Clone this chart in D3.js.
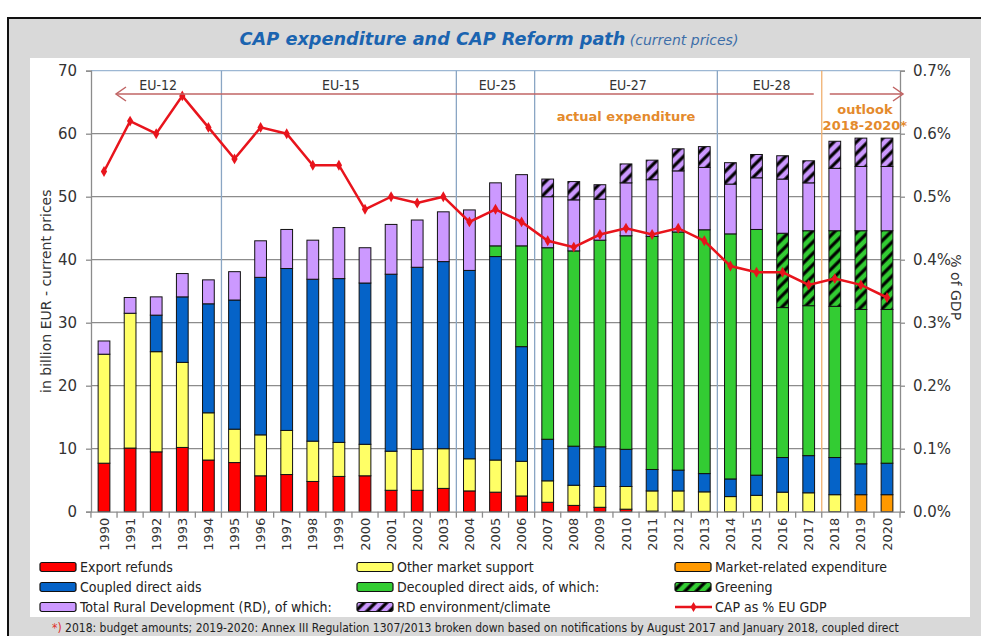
<!DOCTYPE html>
<html>
<head>
<meta charset="utf-8">
<script src="https://cdn.jsdelivr.net/npm/d3@7"></script>
<style>
body { margin: 0; background: #fff; }
svg text { font-family: "DejaVu Sans", Verdana, sans-serif; }
svg .cond { font-family: "DejaVu Sans Condensed", "DejaVu Sans", sans-serif; font-stretch: condensed; }
</style>
</head>
<body>
<svg id="chart" width="981" height="636"></svg>
<script>
// categories
const years = ["1990","1991","1992","1993","1994","1995","1996","1997","1998","1999",
  "2000","2001","2002","2003","2004","2005","2006","2007","2008","2009",
  "2010","2011","2012","2013","2014","2015","2016","2017","2018","2019","2020"];

// bn EUR, current prices
const exportRefunds = [7.7,10.1,9.5,10.2,8.2,7.8,5.7,5.9,4.8,5.6,5.7,3.4,3.4,3.7,3.3,3.1,2.5,1.5,1.0,0.7,0.4,0.1,0.1,0.05,0,0,0,0,0,0,0];
const otherMarket = [17.3,21.4,15.9,13.5,7.5,5.3,6.5,7.0,6.4,5.4,5.0,6.2,6.5,6.3,5.1,5.1,5.5,3.4,3.2,3.3,3.6,3.2,3.2,3.1,2.4,2.6,3.1,3.0,2.7,0,0];
const marketRelated = [0,0,0,0,0,0,0,0,0,0,0,0,0,0,0,0,0,0,0,0,0,0,0,0,0,0,0,0,0,2.7,2.7];
const coupled = [0,0,5.8,10.4,17.3,20.5,25.0,25.7,25.7,26.0,25.6,28.1,28.9,29.7,29.9,32.3,18.2,6.6,6.2,6.3,5.9,3.4,3.3,2.9,2.8,3.2,5.5,5.9,5.9,4.9,5.0];
const decoupled = [0,0,0,0,0,0,0,0,0,0,0,0,0,0,0,1.7,16.0,30.4,31.0,32.8,33.9,37.0,37.8,38.7,38.9,39.0,23.8,23.8,24.0,24.5,24.4];
const greening = [0,0,0,0,0,0,0,0,0,0,0,0,0,0,0,0,0,0,0,0,0,0,0,0,0,0,11.8,11.9,12.0,12.5,12.5];
const ruralDev = [2.1,2.5,2.9,3.7,3.8,4.5,5.8,6.2,6.2,8.1,5.6,7.9,7.5,7.9,9.6,10.0,11.3,8.1,8.1,6.5,8.4,9.0,9.7,9.9,7.9,8.2,8.6,7.6,9.9,10.2,10.2];
const rdEnvironment = [0,0,0,0,0,0,0,0,0,0,0,0,0,0,0,0,0,2.8,2.9,2.3,3.0,3.1,3.5,3.3,3.4,3.7,3.7,3.5,4.3,4.5,4.5];

// CAP as % of EU GDP (fraction)
const capGdp = [0.0054,0.0062,0.0060,0.0066,0.0061,0.0056,0.0061,0.0060,0.0055,0.0055,
  0.0048,0.0050,0.0049,0.0050,0.0046,0.0048,0.0046,0.0043,0.0042,0.0044,
  0.0045,0.0044,0.0045,0.0043,0.0039,0.0038,0.0038,0.0036,0.0037,0.0036,0.0034];

const leftTicks = [0,10,20,30,40,50,60,70];
const rightTicks = [0,0.001,0.002,0.003,0.004,0.005,0.006,0.007];

// enlargement periods
const periods = [
  { label: "EU-12", from: "1990", to: "1994" },
  { label: "EU-15", from: "1995", to: "2003" },
  { label: "EU-25", from: "2004", to: "2006" },
  { label: "EU-27", from: "2007", to: "2013" },
  { label: "EU-28", from: "2014", to: "2017" }
];

const series = [
  { key: "exp",  name: "Export refunds", values: exportRefunds, color: "#ff0000" },
  { key: "oth",  name: "Other market support", values: otherMarket, color: "#ffff66" },
  { key: "mkt",  name: "Market-related expenditure", values: marketRelated, color: "#ff9900" },
  { key: "cpl",  name: "Coupled direct aids", values: coupled, color: "#0563c8" },
  { key: "dec",  name: "Decoupled direct aids, of which:", values: decoupled, color: "#33cc33" },
  { key: "grn",  name: "Greening", values: greening, color: "#33cc33", hatch: true },
  { key: "rd",   name: "Total Rural Development (RD), of which:", values: ruralDev, color: "#cc99ff" },
  { key: "rde",  name: "RD environment/climate", values: rdEnvironment, color: "#cc99ff", hatch: true }
];

const svg = d3.select("#chart");

// frame
svg.append("rect").attr("x", 8).attr("y", 18).attr("width", 990).attr("height", 640)
  .attr("fill", "#d9d9d9").attr("stroke", "#111").attr("stroke-width", 2);
svg.append("rect").attr("x", 30).attr("y", 58).attr("width", 940).attr("height", 559)
  .attr("fill", "#fff");

// title
const title = svg.append("text").attr("x", 489).attr("y", 45).attr("text-anchor", "middle");
title.append("tspan").text("CAP expenditure and CAP Reform path")
  .attr("font-size", 17.7).attr("font-weight", "bold").attr("font-style", "italic").attr("fill", "#1b64b0");
title.append("tspan").text(" (current prices)")
  .attr("font-size", 14).attr("font-style", "italic").attr("fill", "#3d6ea8");

// hatch patterns
const defs = svg.append("defs");
function hatch(id, color) {
  const p = defs.append("pattern").attr("id", id).attr("patternUnits", "userSpaceOnUse")
    .attr("width", 8).attr("height", 8).attr("patternTransform", "rotate(45)");
  p.append("rect").attr("width", 8).attr("height", 8).attr("fill", color);
  p.append("line").attr("x1", 2).attr("y1", 0).attr("x2", 2).attr("y2", 8)
    .attr("stroke", "#000").attr("stroke-width", 3.2);
}
series.filter(s => s.hatch).forEach(s => hatch("hatch-" + s.key, s.color));
const fillOf = s => s.hatch ? "url(#hatch-" + s.key + ")" : s.color;

// scales
const x = d3.scaleBand().domain(years).range([91, 900]).paddingInner(0.55).paddingOuter(0.273);
const y = d3.scaleLinear().domain([0, 70]).range([511.7, 70.7]);
const y2 = d3.scaleLinear().domain([0, 0.007]).range([511.7, 70.7]);
const step = x.step(), bw = x.bandwidth();
const cx = d => x(d) + bw / 2;
const boundary = (a, b) => (cx(a) + cx(b)) / 2;

// gridlines
svg.append("g").selectAll("line").data(leftTicks.slice(1, -1)).join("line")
  .attr("x1", x.range()[0]).attr("x2", x.range()[1])
  .attr("y1", d => y(d)).attr("y2", d => y(d))
  .attr("stroke", "#8c8c8c").attr("stroke-width", 1.3);
svg.append("line").attr("x1", x.range()[0]).attr("x2", x.range()[1])
  .attr("y1", y(70)).attr("y2", y(70)).attr("stroke", "#9db7d3").attr("stroke-width", 1.3);

// period separators
const sepYears = periods.slice(1).map((p, i) => boundary(periods[i].to, p.from));
svg.append("g").selectAll("line").data(sepYears).join("line")
  .attr("x1", d => d).attr("x2", d => d).attr("y1", y(70)).attr("y2", y(0))
  .attr("stroke", "#8aa6c4").attr("stroke-width", 1.3);
const outlookX = boundary("2017", "2018");
svg.append("line").attr("x1", outlookX).attr("x2", outlookX).attr("y1", y(70)).attr("y2", y(0))
  .attr("stroke", "#f0b070").attr("stroke-width", 1.3);

// stacked bars
const stackRows = years.map((yr, i) => {
  const row = { year: yr };
  series.forEach(s => row[s.key] = s.values[i]);
  return row;
});
const stacked = d3.stack().keys(series.map(s => s.key))(stackRows);
const barG = svg.append("g");
stacked.forEach((layer, li) => {
  const s = series[li];
  barG.append("g").selectAll("rect")
    .data(layer.filter(d => d[1] - d[0] > 0))
    .join("rect")
    .attr("x", d => x(d.data.year))
    .attr("width", bw)
    .attr("y", d => y(d[1]))
    .attr("height", d => y(d[0]) - y(d[1]))
    .attr("fill", fillOf(s))
    .attr("stroke", "#111").attr("stroke-width", 1);
});

// axes
const leftAxis = svg.append("g").attr("transform", `translate(${x.range()[0]},0)`)
  .call(d3.axisLeft(y).tickValues(leftTicks).tickSize(5).tickPadding(9));
const rightAxis = svg.append("g").attr("transform", `translate(${x.range()[1]},0)`)
  .call(d3.axisRight(y2).tickValues(rightTicks).tickFormat(d3.format(".1%")).tickSize(5).tickPadding(8));
[leftAxis, rightAxis].forEach(a => {
  a.selectAll(".domain, .tick line").attr("stroke", "#8c8c8c").attr("stroke-width", 1.3);
  a.selectAll("text").attr("font-size", 15).attr("fill", "#333");
});

const bottomAxis = svg.append("g").attr("transform", `translate(0,${y(0)})`)
  .call(d3.axisBottom(x).tickSize(0).tickPadding(0));
bottomAxis.select(".domain").attr("stroke", "#8c8c8c").attr("stroke-width", 1.3);
bottomAxis.selectAll("text")
  .attr("font-size", 13).attr("fill", "#333")
  .attr("text-anchor", "end").attr("dy", "0.35em")
  .attr("transform", "translate(0,6) rotate(-90)");
const bounds = years.map(d => x(d) - (step - bw) / 2).concat([x.range()[1]]);
bottomAxis.selectAll("line.bound").data(bounds).join("line").attr("class", "bound")
  .attr("x1", d => d).attr("x2", d => d).attr("y1", 0).attr("y2", 6)
  .attr("stroke", "#8c8c8c").attr("stroke-width", 1.3);

// axis titles
svg.append("text").attr("transform", `translate(51,${(y(0) + y(70)) / 2}) rotate(-90)`)
  .attr("text-anchor", "middle").attr("font-size", 14).attr("fill", "#333")
  .text("in billion EUR - current prices");
svg.append("text").attr("transform", `translate(951,${(y(0) + y(70)) / 2 - 4}) rotate(90)`)
  .attr("text-anchor", "middle").attr("font-size", 14).attr("fill", "#333")
  .text("% of GDP");

// CAP as % of GDP line
const line = d3.line().x((d, i) => cx(years[i])).y(d => y2(d));
svg.append("path").datum(capGdp).attr("d", line)
  .attr("fill", "none").attr("stroke", "#e8141c").attr("stroke-width", 2.5);
svg.append("g").selectAll("path").data(capGdp).join("path")
  .attr("transform", (d, i) => `translate(${cx(years[i])},${y2(d)})`)
  .attr("d", d3.symbol(d3.symbolDiamond, 34))
  .attr("fill", "#e8141c");

// period labels and arrow
const arrowY = 94, arrowCol = "#c06464";
const periodStart = p => x(p.from) - (step - bw) / 2;
const periodEnd = p => x(p.to) + bw + (step - bw) / 2;
svg.append("g").selectAll("text").data(periods).join("text")
  .attr("class", "cond")
  .attr("x", p => (periodStart(p) + periodEnd(p)) / 2 + 2)
  .attr("y", 90).attr("text-anchor", "middle").attr("font-size", 14).attr("fill", "#333")
  .text(p => p.label);
const arrowL = x.range()[0] + 25, arrowR = x.range()[1] + 3;
const arrowG = svg.append("g").attr("stroke", arrowCol).attr("stroke-width", 1.5).attr("fill", "none");
arrowG.append("line").attr("x1", arrowL).attr("x2", outlookX - 8).attr("y1", arrowY).attr("y2", arrowY);
arrowG.append("line").attr("x1", outlookX + 8).attr("x2", arrowR).attr("y1", arrowY).attr("y2", arrowY);
arrowG.append("path").attr("d", `M${arrowL + 10},${arrowY - 7}L${arrowL},${arrowY}L${arrowL + 10},${arrowY + 7}`);
arrowG.append("path").attr("d", `M${arrowR - 10},${arrowY - 7}L${arrowR},${arrowY}L${arrowR - 10},${arrowY + 7}`);

const orange = "#e48a2c";
svg.append("text").attr("x", (boundary("2006", "2007") + boundary("2013", "2014")) / 2)
  .attr("y", 121).attr("text-anchor", "middle").attr("font-size", 13).attr("font-weight", "bold")
  .attr("fill", orange).text("actual expenditure");
const outlook = svg.append("text").attr("text-anchor", "middle").attr("font-size", 13)
  .attr("font-weight", "bold").attr("fill", orange);
outlook.append("tspan").attr("x", cx("2019") + 4).attr("y", 114).text("outlook");
outlook.append("tspan").attr("x", cx("2019") + 4).attr("y", 130).text("2018-2020*");

// legend
const legendItems = [
  { s: series[0], col: 0, row: 0 },
  { s: series[1], col: 1, row: 0 },
  { s: series[2], col: 2, row: 0 },
  { s: series[3], col: 0, row: 1 },
  { s: series[4], col: 1, row: 1 },
  { s: series[5], col: 2, row: 1 },
  { s: series[6], col: 0, row: 2 },
  { s: series[7], col: 1, row: 2 },
  { s: null, name: "CAP as % EU GDP", col: 2, row: 2 }
];
const colX = [40, 357, 675], rowY = [567, 587, 607];
const lg = svg.append("g").selectAll("g").data(legendItems).join("g")
  .attr("transform", d => `translate(${colX[d.col]},${rowY[d.row]})`);
lg.filter(d => d.s).append("rect")
  .attr("x", 0).attr("y", -4.5).attr("width", 36).attr("height", 9).attr("rx", 2)
  .attr("fill", d => fillOf(d.s)).attr("stroke", "#111").attr("stroke-width", 1.2);
const lineItem = lg.filter(d => !d.s);
lineItem.append("line").attr("x1", 0).attr("x2", 37).attr("y1", 0).attr("y2", 0)
  .attr("stroke", "#e8141c").attr("stroke-width", 2.5);
lineItem.append("path").attr("transform", "translate(18.5,0)")
  .attr("d", d3.symbol(d3.symbolDiamond, 30)).attr("fill", "#e8141c");
lg.append("text").attr("class", "cond").attr("x", 40).attr("dy", "0.36em")
  .attr("font-size", 14).attr("fill", "#222")
  .text(d => d.s ? d.s.name : d.name);

// footnote
const foot = svg.append("text").attr("class", "cond").attr("x", 52).attr("y", 632)
  .attr("font-size", 12).attr("fill", "#222");
foot.append("tspan").attr("fill", "#e0302a").text("*)");
foot.append("tspan").text(" 2018: budget amounts; 2019-2020: Annex III Regulation 1307/2013 broken down based on notifications by August 2017 and January 2018, coupled direct");
</script>
</body>
</html>
